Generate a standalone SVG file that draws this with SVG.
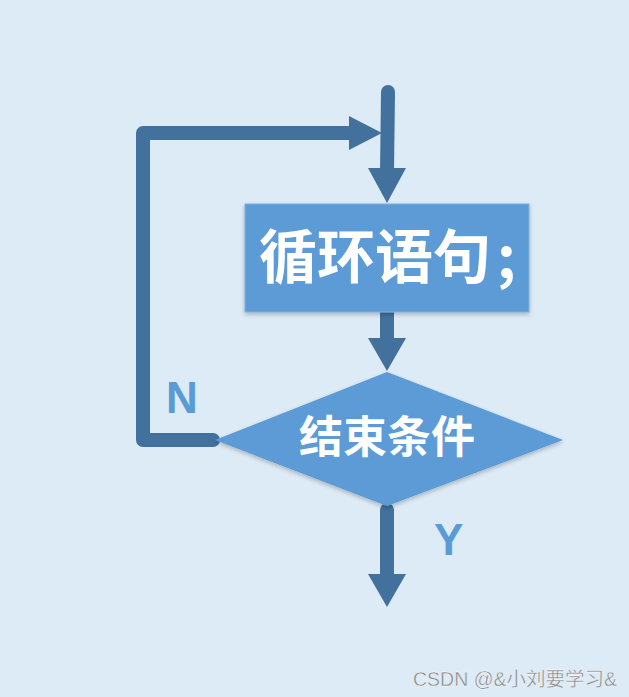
<svg xmlns="http://www.w3.org/2000/svg" width="629" height="697" viewBox="0 0 629 697">
<style>
.ln{fill:none;stroke:#41719C;stroke-width:14;stroke-linecap:round;stroke-linejoin:round}
.ah{fill:#41719C}
.shape{fill:#5B9BD5}
.cjk{font-family:"Noto Sans CJK SC","Noto Sans",sans-serif;font-weight:bold;fill:#FFFFFF}
.lbl{font-family:"Liberation Sans",Arial,sans-serif;font-weight:bold;fill:#5B9BD5;font-size:44px}
</style>
<defs>
<filter id="sh" x="-10%" y="-10%" width="120%" height="130%">
<feGaussianBlur in="SourceAlpha" stdDeviation="2"/>
<feOffset dy="2"/>
<feComponentTransfer><feFuncA type="linear" slope="0.25"/></feComponentTransfer>
<feMerge><feMergeNode/><feMergeNode in="SourceGraphic"/></feMerge>
</filter>
</defs>
<rect width="629" height="697" fill="#DDEBF7"/>
<g id="connectors">
<path class="ln" d="M388,92 L387,172"/>
<polygon class="ah" points="368,168 406,168 387,203"/>
<path class="ln" d="M213,440 L143,440 L143,133 L352,133"/>
<polygon class="ah" points="349,116 349,150 382,133"/>
<path class="ln" d="M387,312 L387,342"/>
<polygon class="ah" points="368,338 406,338 387,371"/>
<path class="ln" d="M387,510 L387,578"/>
<polygon class="ah" points="368,574 406,574 387,607"/>
</g>
<g id="node-loop">
<rect class="shape" x="245" y="204" width="284" height="108" stroke="#7FB0DE" stroke-width="1" filter="url(#sh)"/>
<text class="cjk" x="259" y="278" font-size="58">循环语句<tspan dx="6">;</tspan></text>
</g>
<g id="node-cond">
<polygon class="shape" points="387,372 563,440 387,506 215,440" filter="url(#sh)"/>
<text class="cjk" x="387" y="453" font-size="44" text-anchor="middle">结束条件</text>
</g>
<g id="labels">
<text class="lbl" x="166" y="413">N</text>
<text class="lbl" x="434" y="555">Y</text>
</g>
<text x="413" y="686" font-family="'Liberation Sans','Noto Sans CJK SC',sans-serif" font-size="19.5" fill="#8A8A8A" stroke="#FFFFFF" stroke-width="0.3">CSDN @&amp;小刘要学习&amp;</text>
</svg>
